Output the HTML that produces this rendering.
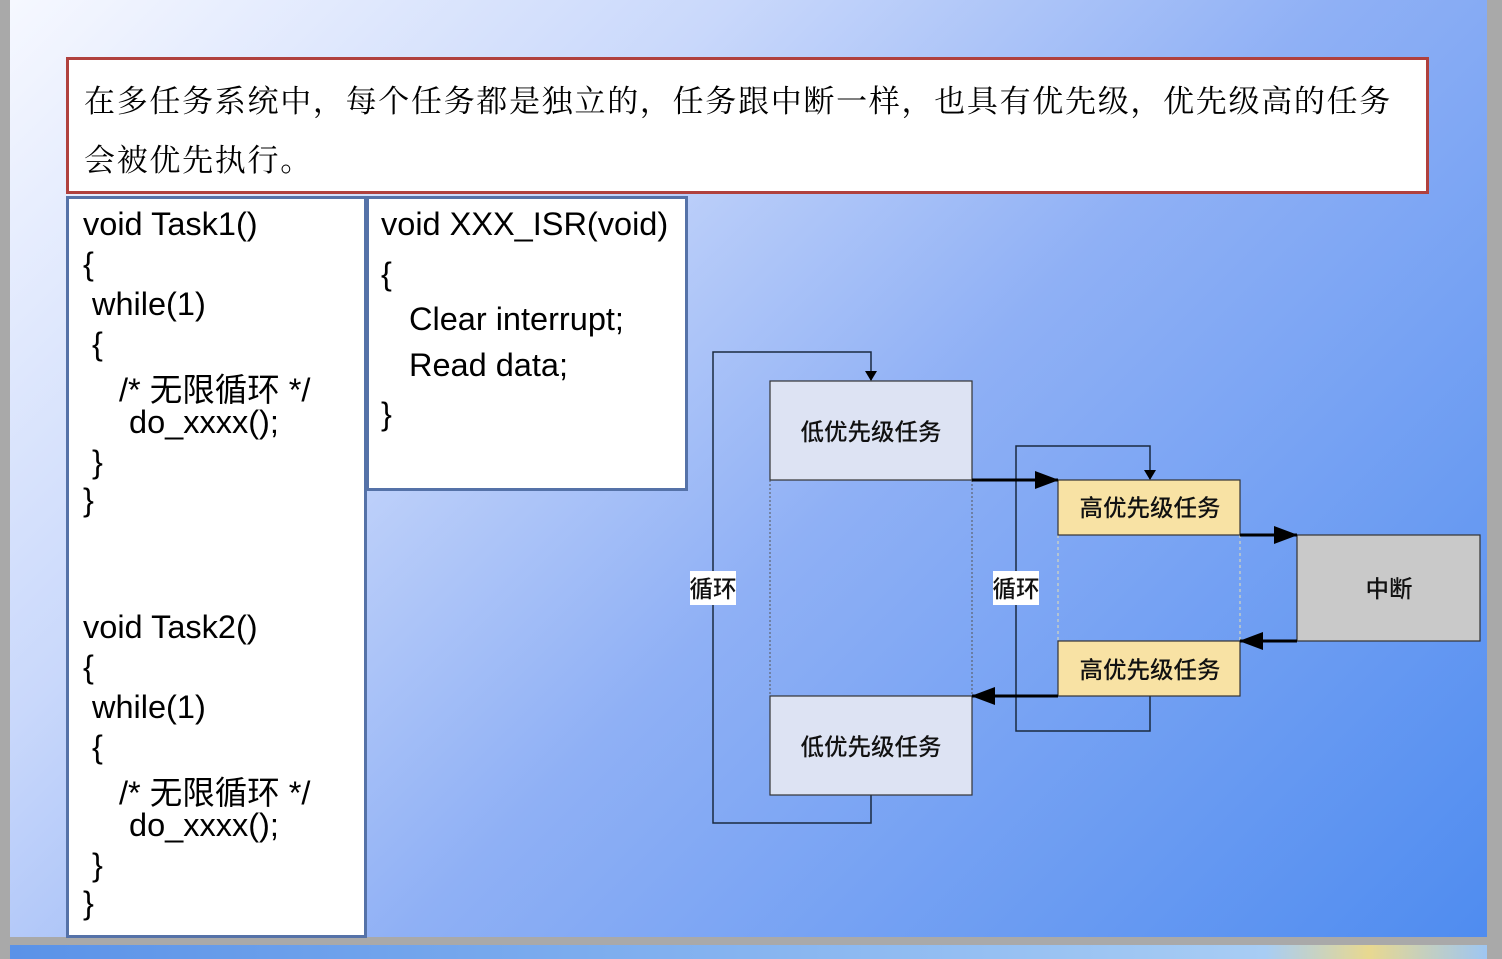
<!DOCTYPE html>
<html><head><meta charset="utf-8"><style>
html,body{margin:0;padding:0;width:1502px;height:959px;overflow:hidden;background:#a9a9a9;}
#slide{position:absolute;left:10px;top:0;width:1477px;height:937px;background:linear-gradient(135deg,#f6f8ff 0%,#c9d8fb 30%,#8fb0f5 55%,#4f8cf0 100%);}
#strip{position:absolute;left:10px;top:945px;width:1477px;height:14px;background:linear-gradient(90deg,#5a92e8,#86b4f0 50%,#a8cdf4 85%,#e8d890 92%,#9ec6f2);}
.box{position:absolute;background:#fff;box-sizing:border-box;}
.t{font-family:"Liberation Sans","Noto Sans CJK SC",sans-serif;color:#000;position:absolute;white-space:nowrap;}
.code{font-size:32.5px;}
.cn{font-size:31px;letter-spacing:1.7px;font-family:'Noto Serif CJK SC','Noto Sans CJK SC',serif;}
</style></head><body>
<div id="slide"></div>
<div id="strip"></div>
<div class="box" style="left:66px;top:57px;width:1363px;height:137px;border:3px solid #b0413e;"></div>
<div class="t cn" style="left:84px;top:76px;">在多任务系统中，每个任务都是独立的，任务跟中断一样，也具有优先级，优先级高的任务</div>
<div class="t cn" style="left:84px;top:135px;">会被优先执行。</div>
<div class="box" style="left:66px;top:196px;width:301px;height:742px;border:3px solid #5572a8;"></div>
<div class="box" style="left:366px;top:196px;width:322px;height:295px;border:3px solid #5572a8;"></div>
<div class="t code" style="left:83px;top:206px;">void Task1()</div>
<div class="t code" style="left:83px;top:246px;">{</div>
<div class="t code" style="left:92px;top:286px;">while(1)</div>
<div class="t code" style="left:92px;top:326px;">{</div>
<div class="t code" style="left:119px;top:364px;">/* 无限循环 */</div>
<div class="t code" style="left:129px;top:404px;">do_xxxx();</div>
<div class="t code" style="left:92px;top:444px;">}</div>
<div class="t code" style="left:83px;top:482px;">}</div>
<div class="t code" style="left:83px;top:609px;">void Task2()</div>
<div class="t code" style="left:83px;top:649px;">{</div>
<div class="t code" style="left:92px;top:689px;">while(1)</div>
<div class="t code" style="left:92px;top:729px;">{</div>
<div class="t code" style="left:119px;top:767px;">/* 无限循环 */</div>
<div class="t code" style="left:129px;top:807px;">do_xxxx();</div>
<div class="t code" style="left:92px;top:847px;">}</div>
<div class="t code" style="left:83px;top:885px;">}</div>
<div class="t code" style="left:381px;top:206px;">void XXX_ISR(void)</div>
<div class="t code" style="left:381px;top:256px;">{</div>
<div class="t code" style="left:409px;top:301px;">Clear interrupt;</div>
<div class="t code" style="left:409px;top:347px;">Read data;</div>
<div class="t code" style="left:381px;top:396px;">}</div>
<svg style="position:absolute;left:0;top:0" width="1502" height="959">
<defs><marker id="a" markerWidth="10" markerHeight="12" refX="9" refY="6" orient="auto" markerUnits="userSpaceOnUse"><path d="M0,0L10,6L0,12z"/></marker>
<marker id="b" markerWidth="24" markerHeight="18" refX="23" refY="9" orient="auto" markerUnits="userSpaceOnUse"><path d="M0,0L24,9L0,18z"/></marker></defs>
<g stroke="#1a2a40" stroke-width="1.5" fill="none">
<polyline points="871,795 871,823 713,823 713,352 871,352 871,380" marker-end="url(#a)"/>
<polyline points="1150,696 1150,731 1016,731 1016,446 1150,446 1150,479" marker-end="url(#a)"/>
</g>
<g stroke="#555" stroke-width="1" stroke-dasharray="2,2">
<line x1="770" y1="480" x2="770" y2="696"/><line x1="972" y1="480" x2="972" y2="696"/>
</g>
<g stroke="#e8e0b0" stroke-width="1" stroke-dasharray="3,3">
<line x1="1058" y1="535" x2="1058" y2="641"/><line x1="1240" y1="535" x2="1240" y2="641"/>
</g>
<rect x="770" y="381" width="202" height="99" fill="#dde3f3" stroke="#333" stroke-width="1.2"/>
<rect x="770" y="696" width="202" height="99" fill="#dde3f3" stroke="#333" stroke-width="1.2"/>
<rect x="1058" y="480" width="182" height="55" fill="#f8e2a4" stroke="#333" stroke-width="1.2"/>
<rect x="1058" y="641" width="182" height="55" fill="#f8e2a4" stroke="#333" stroke-width="1.2"/>
<rect x="1297" y="535" width="183" height="106" fill="#c9c9c9" stroke="#333" stroke-width="1.2"/>
<g stroke="#000" stroke-width="3">
<line x1="972" y1="480" x2="1058" y2="480" marker-end="url(#b)"/>
<line x1="1240" y1="535" x2="1297" y2="535" marker-end="url(#b)"/>
<line x1="1297" y1="641" x2="1240" y2="641" marker-end="url(#b)"/>
<line x1="1058" y1="696" x2="972" y2="696" marker-end="url(#b)"/>
</g>
<rect x="690" y="571" width="46" height="34" fill="#fff"/>
<rect x="993" y="571" width="46" height="34" fill="#fff"/>
<g font-family="Noto Sans CJK SC,sans-serif" font-size="23.5" font-weight="500" text-anchor="middle" fill="#111">
<text x="871" y="440">低优先级任务</text>
<text x="871" y="755">低优先级任务</text>
<text x="1150" y="516">高优先级任务</text>
<text x="1150" y="678">高优先级任务</text>
<text x="1389" y="597">中断</text>
<text x="713" y="597">循环</text>
<text x="1016" y="597">循环</text>
</g>
</svg>
</body></html>
